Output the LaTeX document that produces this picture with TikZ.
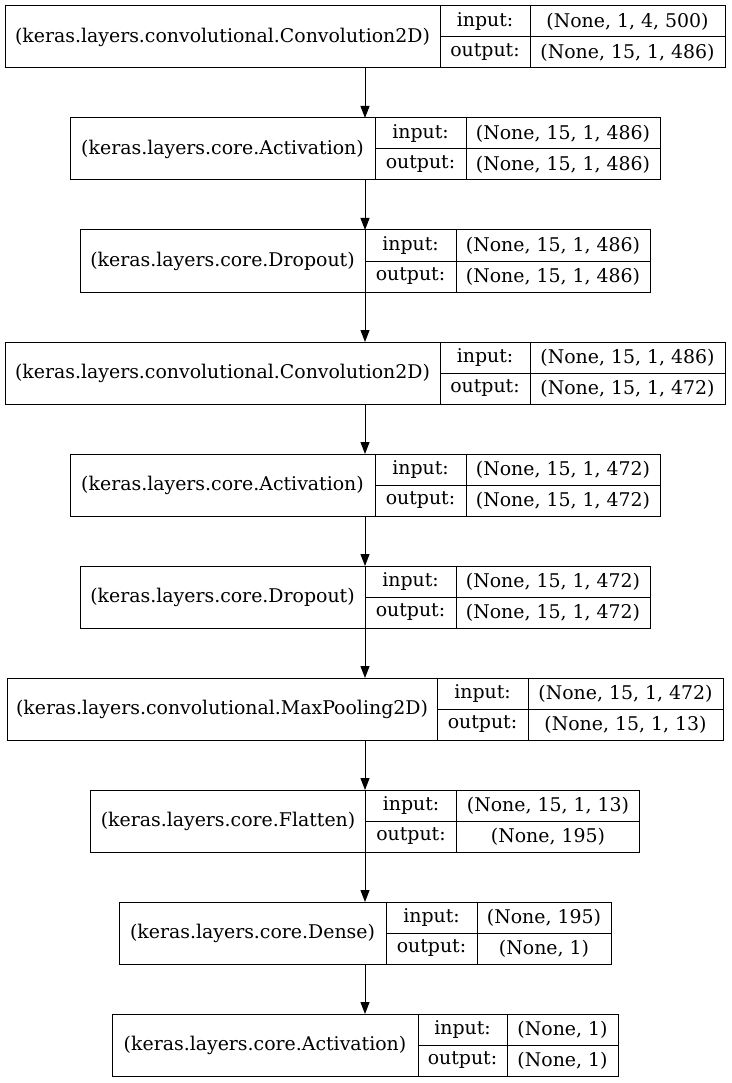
\documentclass[tikz,border=0pt]{standalone}
\usepackage{fontspec}
\setmainfont{DejaVu Serif}
\usepackage{tikz}
\usetikzlibrary{arrows.meta}
\newcommand{\rowh}{31pt}
\newcommand{\boxh}{62pt}
\tikzset{
  layer/.style={draw, line width=1pt, inner sep=0pt, outer sep=0pt, minimum height=\boxh},
  namecell/.style={draw, line width=1pt, inner sep=0pt, outer sep=0pt, minimum height=\boxh, font=\fontsize{18.9pt}{22pt}\selectfont},
  cell/.style={draw, line width=1pt, inner sep=0pt, outer sep=0pt, minimum height=\rowh, font=\fontsize{18.9pt}{22pt}\selectfont},
  arr/.style={line width=1pt, -{Triangle[length=12pt,width=9pt]}}
}

\begin{document}
\begin{tikzpicture}[x=1pt,y=-1pt]
\useasboundingbox (0,0) rectangle (731,1083);
%conv1
\node[layer, minimum width=720pt] (conv1) at (365,37) {};
\node[namecell, minimum width=435pt] (conv1name) at (222.5,37) {(keras.layers.convolutional.Convolution2D)};
\node[cell, minimum width=90pt] (conv1in) at (485,21.5) {input:};
\node[cell, minimum width=90pt] (conv1out) at (485,52.5) {output:};
\node[cell, minimum width=195pt] (conv1inv) at (627.5,21.5) {(None, 1, 4, 500)};
\node[cell, minimum width=195pt] (conv1outv) at (627.5,52.5) {(None, 15, 1, 486)};
%act1
\node[layer, minimum width=590pt] (act1) at (365,149) {};
\node[namecell, minimum width=305pt] (act1name) at (222.5,149) {(keras.layers.core.Activation)};
\node[cell, minimum width=91pt] (act1in) at (420.5,133.5) {input:};
\node[cell, minimum width=91pt] (act1out) at (420.5,164.5) {output:};
\node[cell, minimum width=194pt] (act1inv) at (563,133.5) {(None, 15, 1, 486)};
\node[cell, minimum width=194pt] (act1outv) at (563,164.5) {(None, 15, 1, 486)};
%drop1
\node[layer, minimum width=570pt] (drop1) at (365,261) {};
\node[namecell, minimum width=285pt] (drop1name) at (222.5,261) {(keras.layers.core.Dropout)};
\node[cell, minimum width=91pt] (drop1in) at (410.5,245.5) {input:};
\node[cell, minimum width=91pt] (drop1out) at (410.5,276.5) {output:};
\node[cell, minimum width=194pt] (drop1inv) at (553,245.5) {(None, 15, 1, 486)};
\node[cell, minimum width=194pt] (drop1outv) at (553,276.5) {(None, 15, 1, 486)};
%conv2
\node[layer, minimum width=720pt] (conv2) at (365,373) {};
\node[namecell, minimum width=435pt] (conv2name) at (222.5,373) {(keras.layers.convolutional.Convolution2D)};
\node[cell, minimum width=90pt] (conv2in) at (485,357.5) {input:};
\node[cell, minimum width=90pt] (conv2out) at (485,388.5) {output:};
\node[cell, minimum width=195pt] (conv2inv) at (627.5,357.5) {(None, 15, 1, 486)};
\node[cell, minimum width=195pt] (conv2outv) at (627.5,388.5) {(None, 15, 1, 472)};
%act2
\node[layer, minimum width=590pt] (act2) at (365,485) {};
\node[namecell, minimum width=305pt] (act2name) at (222.5,485) {(keras.layers.core.Activation)};
\node[cell, minimum width=91pt] (act2in) at (420.5,469.5) {input:};
\node[cell, minimum width=91pt] (act2out) at (420.5,500.5) {output:};
\node[cell, minimum width=194pt] (act2inv) at (563,469.5) {(None, 15, 1, 472)};
\node[cell, minimum width=194pt] (act2outv) at (563,500.5) {(None, 15, 1, 472)};
%drop2
\node[layer, minimum width=570pt] (drop2) at (365,597) {};
\node[namecell, minimum width=285pt] (drop2name) at (222.5,597) {(keras.layers.core.Dropout)};
\node[cell, minimum width=91pt] (drop2in) at (410.5,581.5) {input:};
\node[cell, minimum width=91pt] (drop2out) at (410.5,612.5) {output:};
\node[cell, minimum width=194pt] (drop2inv) at (553,581.5) {(None, 15, 1, 472)};
\node[cell, minimum width=194pt] (drop2outv) at (553,612.5) {(None, 15, 1, 472)};
%pool
\node[layer, minimum width=716pt] (pool) at (365,709) {};
\node[namecell, minimum width=430pt] (poolname) at (222,709) {(keras.layers.convolutional.MaxPooling2D)};
\node[cell, minimum width=91pt] (poolin) at (482.5,693.5) {input:};
\node[cell, minimum width=91pt] (poolout) at (482.5,724.5) {output:};
\node[cell, minimum width=195pt] (poolinv) at (625.5,693.5) {(None, 15, 1, 472)};
\node[cell, minimum width=195pt] (pooloutv) at (625.5,724.5) {(None, 15, 1, 13)};
%flat
\node[layer, minimum width=549pt] (flat) at (365,821) {};
\node[namecell, minimum width=275pt] (flatname) at (228,821) {(keras.layers.core.Flatten)};
\node[cell, minimum width=91pt] (flatin) at (411,805.5) {input:};
\node[cell, minimum width=91pt] (flatout) at (411,836.5) {output:};
\node[cell, minimum width=183pt] (flatinv) at (548,805.5) {(None, 15, 1, 13)};
\node[cell, minimum width=183pt] (flatoutv) at (548,836.5) {(None, 195)};
%dense
\node[layer, minimum width=492pt] (dense) at (365,933) {};
\node[namecell, minimum width=267pt] (densename) at (252.5,933) {(keras.layers.core.Dense)};
\node[cell, minimum width=91pt] (densein) at (431.5,917.5) {input:};
\node[cell, minimum width=91pt] (denseout) at (431.5,948.5) {output:};
\node[cell, minimum width=134pt] (denseinv) at (544,917.5) {(None, 195)};
\node[cell, minimum width=134pt] (denseoutv) at (544,948.5) {(None, 1)};
%act3
\node[layer, minimum width=506pt] (act3) at (365,1045) {};
\node[namecell, minimum width=306pt] (act3name) at (265,1045) {(keras.layers.core.Activation)};
\node[cell, minimum width=89pt] (act3in) at (462.5,1029.5) {input:};
\node[cell, minimum width=89pt] (act3out) at (462.5,1060.5) {output:};
\node[cell, minimum width=111pt] (act3inv) at (562.5,1029.5) {(None, 1)};
\node[cell, minimum width=111pt] (act3outv) at (562.5,1060.5) {(None, 1)};
%arrows
\draw[arr] (conv1) -- (act1);
\draw[arr] (act1) -- (drop1);
\draw[arr] (drop1) -- (conv2);
\draw[arr] (conv2) -- (act2);
\draw[arr] (act2) -- (drop2);
\draw[arr] (drop2) -- (pool);
\draw[arr] (pool) -- (flat);
\draw[arr] (flat) -- (dense);
\draw[arr] (dense) -- (act3);
\end{tikzpicture}
\end{document}
